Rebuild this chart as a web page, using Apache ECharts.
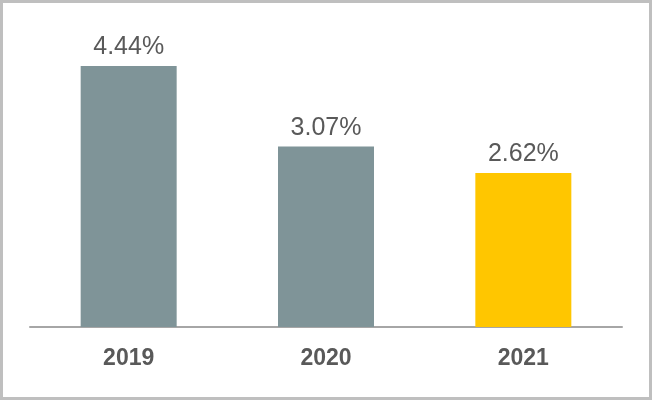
<!DOCTYPE html>
<html>
<head>
<meta charset="utf-8">
<script src="https://cdn.jsdelivr.net/npm/echarts@6/dist/echarts.min.js"></script>
<style>
html,body{margin:0;padding:0;background:#fff;}
#chart{width:652px;height:400px;}
</style>
</head>
<body>
<div id="chart"></div>
<script>
const categories = ['2019', '2020', '2021'];
const values = [4.44, 3.07, 2.62];
const barColors = ['#7f9498', '#7f9498', '#ffc600'];

const chart = echarts.init(document.getElementById('chart'), null, {renderer: 'canvas'});
chart.setOption({
  animation: false,
  graphic: [{
    type: 'rect',
    shape: {x: 1.5, y: 1.5, width: 649, height: 397},
    style: {fill: 'none', stroke: '#bfbfbf', lineWidth: 3},
    silent: true
  }],
  grid: {left: 30, right: 30, top: 33, bottom: 73, containLabel: false},
  xAxis: {
    type: 'category',
    data: categories,
    axisLine: {lineStyle: {color: '#a6a6a6', width: 2}},
    axisTick: {show: false},
    axisLabel: {color: '#595959', fontSize: 23, fontWeight: 'bold', fontFamily: 'Liberation Sans, Arial, sans-serif', margin: 20}
  },
  yAxis: {
    type: 'value',
    min: 0, max: 5,
    show: false,
    splitLine: {show: false}
  },
  series: [{
    type: 'bar',
    barWidth: 96,
    data: values.map((v, i) => ({value: v, itemStyle: {color: barColors[i]}})),
    label: {
      show: true,
      position: 'top',
      distance: 6,
      color: '#595959',
      fontSize: 25,
      fontFamily: 'Liberation Sans, Arial, sans-serif',
      formatter: p => p.value.toFixed(2) + '%'
    }
  }]
});
</script>
</body>
</html>
